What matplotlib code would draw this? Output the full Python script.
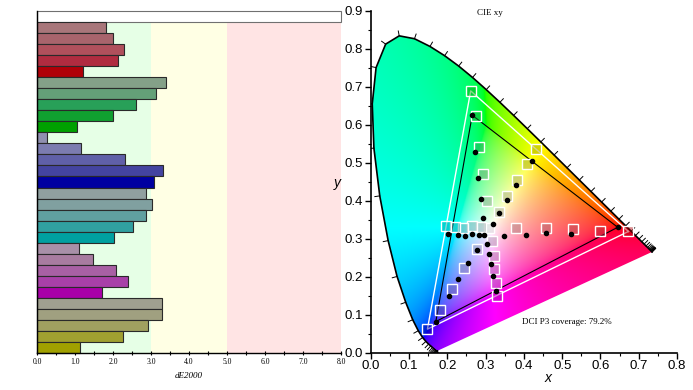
import numpy as np
import matplotlib
matplotlib.use("Agg")
import matplotlib.pyplot as plt
from matplotlib.path import Path
from matplotlib.patches import PathPatch

# CIE 1931 2 deg spectral locus, 380..700 nm in 5 nm steps
LOCUS_X = [0.1741, 0.1740, 0.1738, 0.1736, 0.1733, 0.1730, 0.1726, 0.1721, 0.1714, 0.1703,
           0.1689, 0.1669, 0.1644, 0.1611, 0.1566, 0.1510, 0.1440, 0.1355, 0.1241, 0.1096,
           0.0913, 0.0687, 0.0454, 0.0235, 0.0082, 0.0039, 0.0139, 0.0389, 0.0743, 0.1142,
           0.1547, 0.1929, 0.2296, 0.2658, 0.3016, 0.3373, 0.3731, 0.4087, 0.4441, 0.4788,
           0.5125, 0.5448, 0.5752, 0.6029, 0.6270, 0.6482, 0.6658, 0.6801, 0.6915, 0.7006,
           0.7079, 0.7140, 0.7190, 0.7230, 0.7260, 0.7283, 0.7300, 0.7311, 0.7320, 0.7327,
           0.7334, 0.7340, 0.7344, 0.7346, 0.7347]
LOCUS_Y = [0.0050, 0.0050, 0.0049, 0.0049, 0.0048, 0.0048, 0.0048, 0.0048, 0.0051, 0.0058,
           0.0069, 0.0086, 0.0109, 0.0138, 0.0177, 0.0227, 0.0297, 0.0399, 0.0578, 0.0868,
           0.1327, 0.2007, 0.2950, 0.4127, 0.5384, 0.6548, 0.7502, 0.8120, 0.8338, 0.8262,
           0.8059, 0.7816, 0.7543, 0.7243, 0.6923, 0.6589, 0.6245, 0.5896, 0.5547, 0.5202,
           0.4866, 0.4544, 0.4242, 0.3965, 0.3725, 0.3514, 0.3340, 0.3197, 0.3083, 0.2993,
           0.2920, 0.2859, 0.2809, 0.2770, 0.2740, 0.2717, 0.2700, 0.2689, 0.2680, 0.2673,
           0.2666, 0.2660, 0.2656, 0.2654, 0.2653]

# saturation sweep, top to bottom: white, then R, G, B, C, M, Y at 20..100 %
SWEEP = ['W',
         'R20', 'R40', 'R60', 'R80', 'R100',
         'G20', 'G40', 'G60', 'G80', 'G100',
         'B20', 'B40', 'B60', 'B80', 'B100',
         'C20', 'C40', 'C60', 'C80', 'C100',
         'M20', 'M40', 'M60', 'M80', 'M100',
         'Y20', 'Y40', 'Y60', 'Y80', 'Y100']
DE2000 = [8.0,
          1.81, 2.00, 2.28, 2.12, 1.20,
          3.39, 3.12, 2.60, 1.99, 1.04,
          0.25, 1.17, 2.31, 3.31, 3.08,
          2.86, 3.02, 2.86, 2.53, 2.02,
          1.10, 1.47, 2.07, 2.39, 1.70,
          3.28, 3.30, 2.91, 2.25, 1.12]
BAR_COLORS = ['#ffffff',
              '#a8767a', '#a8646c', '#b0505c', '#b02c40', '#b00008',
              '#84a088', '#64a078', '#28a058', '#10a030', '#00a000',
              '#9090b0', '#7c7cb0', '#6060a8', '#4444a0', '#0000a0',
              '#90a0a0', '#80a0a0', '#60a0a0', '#30a0a0', '#00a0a0',
              '#a890a8', '#a87ca0', '#a860a4', '#a840a8', '#a800a8',
              '#a0a090', '#a0a080', '#a0a060', '#a0a030', '#a0a000']

TARGET_X = [0.310,
            0.379, 0.458, 0.529, 0.600, 0.673,
            0.303, 0.292, 0.284, 0.274, 0.261,
            0.278, 0.244, 0.211, 0.181, 0.148,
            0.288, 0.265, 0.242, 0.219, 0.197,
            0.316, 0.321, 0.323, 0.326, 0.330,
            0.336, 0.355, 0.381, 0.409, 0.432]
TARGET_Y = [0.329,
            0.327, 0.327, 0.325, 0.321, 0.319,
            0.400, 0.469, 0.542, 0.623, 0.689,
            0.272, 0.222, 0.167, 0.112, 0.062,
            0.332, 0.333, 0.329, 0.332, 0.333,
            0.295, 0.255, 0.220, 0.184, 0.149,
            0.371, 0.412, 0.455, 0.497, 0.537]
MEASURED_X = [0.297,
              0.349, 0.405, 0.459, 0.522, 0.645,
              0.294, 0.287, 0.279, 0.272, 0.265,
              0.278, 0.255, 0.228, 0.204, 0.170,
              0.284, 0.265, 0.247, 0.228, 0.203,
              0.303, 0.309, 0.313, 0.319, 0.327,
              0.319, 0.334, 0.355, 0.379, 0.420]
MEASURED_Y = [0.309,
              0.308, 0.310, 0.314, 0.313, 0.330,
              0.355, 0.404, 0.459, 0.529, 0.625,
              0.270, 0.236, 0.193, 0.148, 0.082,
              0.311, 0.312, 0.308, 0.310, 0.312,
              0.286, 0.259, 0.233, 0.202, 0.163,
              0.338, 0.367, 0.401, 0.442, 0.505]

PRIMARIES = ['R100', 'G100', 'B100']
COVERAGE = 79.2

SERIF = 'Liberation Serif'
SANS = 'Liberation Sans'

fig = plt.figure(figsize=(6.93, 3.90), dpi=100)

# ---- left: dE2000 bars ----
ax1 = fig.add_axes([0.0534, 0.0949, 0.4387, 0.8769])
n = len(DE2000)
ypos = np.arange(n)[::-1]
ax1.axvspan(0, 3, color='#e6ffe6', zorder=0, lw=0)
ax1.axvspan(3, 5, color='#ffffe4', zorder=0, lw=0)
ax1.axvspan(5, 8, color='#ffe4e4', zorder=0, lw=0)
edges = ['#707070'] + ['#2a2a2a'] * (n - 1)
bars = ax1.barh(ypos, DE2000, height=1.0, color=BAR_COLORS, edgecolor=edges,
                linewidth=0.8, zorder=2)
for b in bars:
    b.set_clip_on(False)
ax1.set_xlim(0, 8)
ax1.set_ylim(-0.5, n - 0.5)
ax1.set_yticks([])
ax1.set_xticks(np.arange(0, 9))
ax1.set_xticklabels([f"{v:.1f}" for v in range(9)], family=SERIF, fontsize=5.5)
ax1.set_xticks(np.arange(0.5, 8, 1.0), minor=True)
ax1.tick_params(axis='x', which='both', direction='inout', length=3.5, width=0.8, pad=2)
for s in ['top', 'right']:
    ax1.spines[s].set_visible(False)
ax1.spines['left'].set_linewidth(1.0)
ax1.spines['bottom'].set_linewidth(1.0)
ax1.set_xlabel('dE2000', family=SERIF, style='italic', fontsize=6.5, labelpad=4)

# ---- right: CIE xy chromaticity ----
ax2 = fig.add_axes([0.535, 0.0956, 0.442, 0.877])
gx, gy = np.meshgrid(np.linspace(0, 0.8, 480), np.linspace(0.001, 0.9, 540))
X = gx / gy
Z = (1 - gx - gy) / gy
Yv = np.ones_like(gx)
r = 3.2406 * X - 1.5372 * Yv - 0.4986 * Z
g = -0.9689 * X + 1.8758 * Yv + 0.0415 * Z
b = 0.0557 * X - 0.2040 * Yv + 1.0570 * Z
rgb = np.dstack([r, g, b])
low = np.minimum(rgb.min(axis=2, keepdims=True), 0)
rgb = rgb - low            # desaturate out-of-gamut colours towards white
rgb = rgb / np.maximum(rgb.max(axis=2, keepdims=True), 1e-9)
rgb = np.clip(rgb, 0, 1) ** (1 / 2.2)

lx = np.array(LOCUS_X)
ly = np.array(LOCUS_Y)
verts = np.column_stack([np.append(lx, lx[0]), np.append(ly, ly[0])])
clip = PathPatch(Path(verts, closed=True), facecolor='none', edgecolor='none')
ax2.add_patch(clip)
im = ax2.imshow(rgb, extent=(0, 0.8, 0.001, 0.9), origin='lower',
                aspect='auto', interpolation='bilinear', zorder=1)
im.set_clip_path(clip)
ax2.plot(lx, ly, color='black', lw=1.2, zorder=3)

# wavelength ticks on the spectral locus
pts = np.column_stack([lx, ly])
tang = np.gradient(pts, axis=0)
for p, t in zip(pts, tang):
    nrm = np.array([t[1], -t[0]])
    ln = np.hypot(*nrm)
    if ln < 1e-9:
        nrm = np.array([0.0, -1.0])
    else:
        nrm = nrm / ln
    if np.dot(nrm, p - np.array([0.33, 0.33])) < 0:
        nrm = -nrm
    q = p + nrm * 0.013
    ax2.plot([p[0], q[0]], [p[1], q[1]], color='black', lw=0.7, zorder=3)

# gamut triangles
tx = np.array(TARGET_X)
ty = np.array(TARGET_Y)
mx = np.array(MEASURED_X)
my = np.array(MEASURED_Y)
idx = [SWEEP.index(k) for k in PRIMARIES] + [SWEEP.index(PRIMARIES[0])]
ax2.plot(tx[idx], ty[idx], color='white', lw=1.0, zorder=4)
ax2.plot(mx[idx], my[idx], color='black', lw=0.8, zorder=4)

for i in range(n):
    fc = BAR_COLORS[i] if i > 0 else '#d0d0d0'
    ax2.plot(tx[i], ty[i], marker='s', ms=7, mfc=matplotlib.colors.to_rgba(fc, 0.45),
             mec='white', mew=1.0, ls='none', zorder=5)
ax2.plot(mx, my, 'o', color='black', ms=3, ls='none', zorder=6)

ax2.set_xlim(0, 0.8)
ax2.set_ylim(0, 0.9)
ax2.set_xticks(np.arange(0, 0.81, 0.1))
ax2.set_yticks(np.arange(0, 0.91, 0.1))
ax2.set_xticks(np.arange(0.05, 0.8, 0.1), minor=True)
ax2.set_yticks(np.arange(0.05, 0.9, 0.1), minor=True)
ax2.xaxis.set_major_formatter(matplotlib.ticker.FormatStrFormatter('%.1f'))
ax2.yaxis.set_major_formatter(matplotlib.ticker.FormatStrFormatter('%.1f'))
ax2.tick_params(which='major', direction='out', length=4, width=1.0, labelsize=9.5, pad=1.5)
ax2.tick_params(which='minor', direction='out', length=2.5, width=0.8)
for lab in ax2.get_xticklabels() + ax2.get_yticklabels():
    lab.set_family(SANS)
for s in ['top', 'right']:
    ax2.spines[s].set_visible(False)
ax2.spines['left'].set_linewidth(1.2)
ax2.spines['bottom'].set_linewidth(1.2)

ax2.text(0.388, 0.994, 'CIE xy', transform=ax2.transAxes, ha='center', va='center',
         family=SERIF, fontsize=6.5)
ax2.text(0.641, 0.089, f'DCI P3 coverage: {COVERAGE}%', transform=ax2.transAxes,
         ha='center', va='center', family=SERIF, fontsize=6.5)
fig.text(337 / 693, 1 - 183 / 390, 'y', family=SANS, style='italic', fontsize=10,
         ha='center', va='center')
fig.text(548 / 693, 1 - 378 / 390, 'x', family=SANS, style='italic', fontsize=10,
         ha='center', va='center')

fig.savefig('out.png', dpi=100)
